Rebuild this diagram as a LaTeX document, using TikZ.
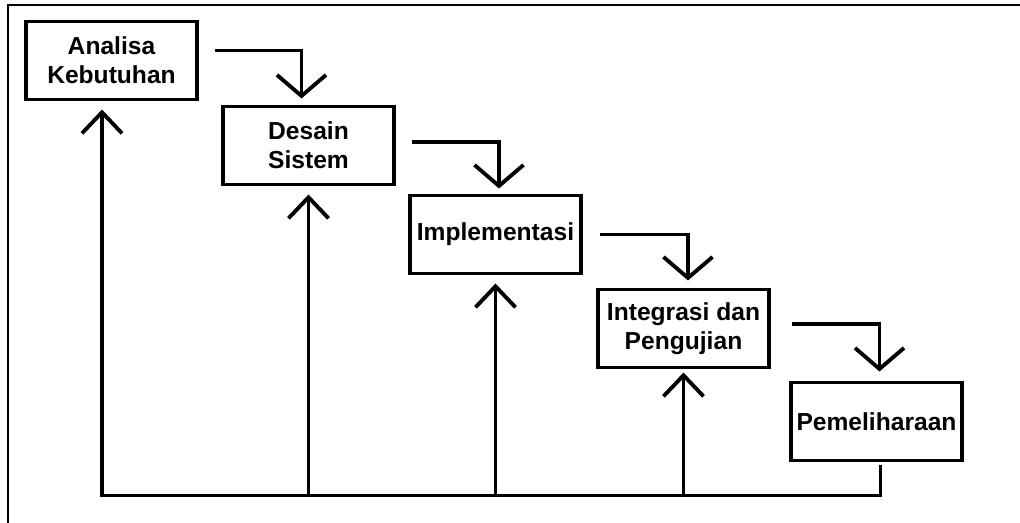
\documentclass[tikz,border=0pt]{standalone}
\usepackage{fontspec}
\setmainfont{Liberation Sans}
\usepackage{tikz}
\usetikzlibrary{arrows.meta,positioning,calc}
\tikzset{
  BX/.style={rectangle,draw,line width=1.8pt,outer sep=0pt,
             minimum width=3.42cm,minimum height=1.56cm,
             text centered,align=center,inner sep=1pt,
             font=\bfseries\fontsize{14}{16.5}\selectfont},
  ln/.style={line width=2.2pt},
  arr/.style={ln,-{Straight Barb[length=0.42cm,width=0.98cm]}},
  arrU/.style={ln,-{Straight Barb[length=0.42cm,width=0.8cm]}}
}
\begin{document}
\begin{tikzpicture}
  \useasboundingbox (0,0) rectangle (20.4,-10.46);
  % frame
  \draw[line width=1.5pt] (20.4,-0.1) -- (0.16,-0.1) -- (0.16,-10.46);

  \node[BX] (an) at (2.23,-1.21) {Analisa\\Kebutuhan};
  \node[BX,below right=0.14cm and 0.52cm of an] (ds) {Desain\\Sistem};
  \node[BX,below right=0.22cm and 0.32cm of ds] (im) {Implementasi};
  \node[BX,below right=0.32cm and 0.34cm of im] (ig) {Integrasi dan\\Pengujian};
  \node[BX,below right=0.3cm and 0.44cm of ig] (pm) {Pemeliharaan};

  % forward
  \draw[arr] ([xshift=0.36cm,yshift=0.2cm]an.east) -| ([xshift=-0.14cm,yshift=0.16cm]ds.north);
  \draw[arr] ([xshift=0.36cm,yshift=0.07cm]ds.east) -| ([xshift=0.07cm,yshift=0.14cm]im.north);
  \draw[arr] ([xshift=0.38cm]im.east) -| ([xshift=0.09cm,yshift=0.18cm]ig.north);
  \draw[arr] ([xshift=0.46cm,yshift=0.09cm]ig.east) -| ([xshift=0.06cm,yshift=0.22cm]pm.north);

  % feedback
  \coordinate (fb) at ($(pm.south)+(0,-0.7)$);
  \draw[arrU] ([xshift=0.08cm,yshift=-0.1cm]pm.south) |- ([xshift=-0.19cm]an.south |- fb)
    -- ([xshift=-0.19cm,yshift=-0.2cm]an.south);
  \draw[arrU] (ds.south |- fb) -- ([yshift=-0.2cm]ds.south);
  \draw[arrU] (im.south |- fb) -- ([yshift=-0.2cm]im.south);
  \draw[arrU] (ig.south |- fb) -- ([yshift=-0.1cm]ig.south);
\end{tikzpicture}
\end{document}
